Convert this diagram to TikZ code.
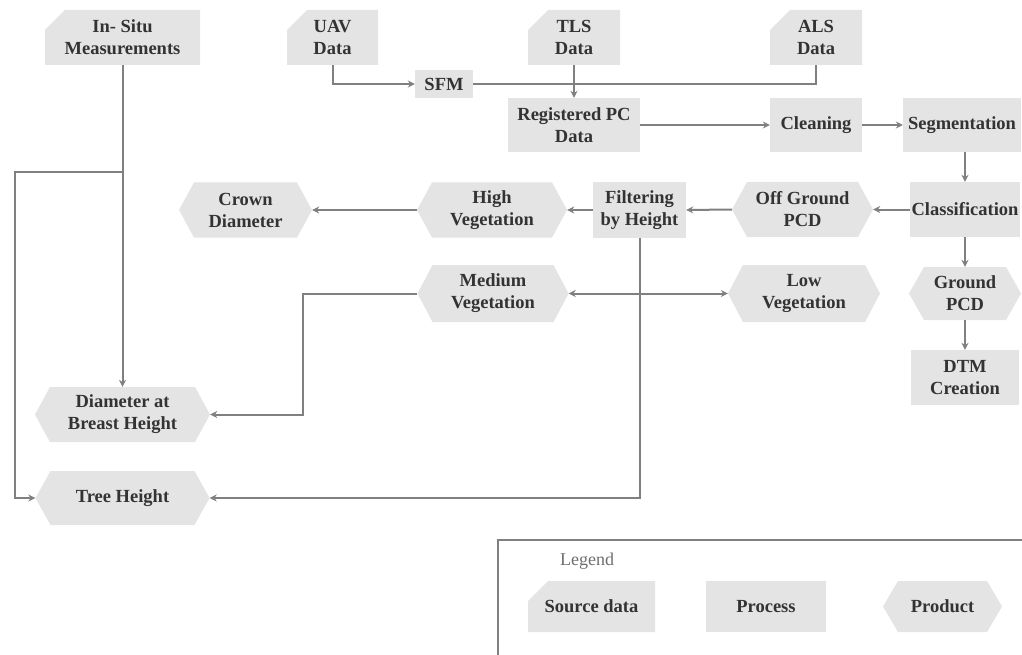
\documentclass[tikz,border=0pt]{standalone}
\usepackage{fontspec}
\setmainfont{Liberation Serif}
\usetikzlibrary{arrows.meta,calc}
\definecolor{boxfill}{HTML}{E4E4E4}
\definecolor{linec}{HTML}{808080}
\definecolor{txt}{HTML}{333333}
\definecolor{legtxt}{HTML}{6E6E6E}
\begin{document}
\begin{tikzpicture}[x=1pt,y=-1pt,
 base/.style={rectangle, inner sep=0pt, align=center, font=\fontsize{18.5}{22}\selectfont\bfseries, text=txt, minimum height=55pt},
 process/.style={base, fill=boxfill},
 source/.style={base, fill=white, path picture={\fill[boxfill] ([xshift=20pt]path picture bounding box.north west) -- (path picture bounding box.north east) -- (path picture bounding box.south east) -- (path picture bounding box.south west) -- ([yshift=-20pt]path picture bounding box.north west) -- cycle;}},
 product/.style={base, fill=white, path picture={\fill[boxfill] ([xshift=15pt]path picture bounding box.north west) -- ([xshift=-15pt]path picture bounding box.north east) -- (path picture bounding box.east) -- ([xshift=-15pt]path picture bounding box.south east) -- ([xshift=15pt]path picture bounding box.south west) -- (path picture bounding box.west) -- cycle;}},
 conn/.style={draw=linec, line width=2pt},
 arr/.style={conn, -{Stealth[length=7pt,width=7pt]}},
 arrb/.style={conn, {Stealth[length=7pt,width=7pt]}-{Stealth[length=7pt,width=7pt]}},
]
\useasboundingbox (0,0) rectangle (1022,655);

% source data
\node[source, minimum width=155pt] (insitu) at (122.5,37.5) {In- Situ\\Measurements};
\node[source, minimum width=91pt] (uav) at (332.5,37.5) {UAV\\Data};
\node[source, minimum width=92pt] (tls) at (574,37.5) {TLS\\Data};
\node[source, minimum width=92pt] (als) at (816,37.5) {ALS\\Data};

% processes
\node[process, minimum width=58pt, minimum height=28pt] (sfm) at (444,84) {SFM};
\node[process, minimum width=132pt, minimum height=54pt] (reg) at (574,125) {Registered PC\\Data};
\node[process, minimum width=92pt, minimum height=54pt] (clean) at (816,125) {Cleaning};
\node[process, minimum width=118pt, minimum height=54pt] (seg) at (962,125) {Segmentation};
\node[process, minimum width=110pt] (cls) at (965,209.5) {Classification};
\node[process, minimum width=93pt] (filt) at (639.5,210) {Filtering\\by Height};
\node[process, minimum width=108pt] (dtm) at (965,377.5) {DTM\\Creation};

% products
\node[product, minimum width=141pt] (off) at (802.5,209.5) {Off Ground\\PCD};
\node[product, minimum width=150pt] (high) at (492,210) {High\\Vegetation};
\node[product, minimum width=133pt] (crown) at (245.5,210) {Crown\\Diameter};
\node[product, minimum width=151pt, minimum height=57pt] (med) at (493,293.5) {Medium\\Vegetation};
\node[product, minimum width=152pt, minimum height=57pt] (low) at (804,293.5) {Low\\Vegetation};
\node[product, minimum width=112pt, minimum height=53pt] (ground) at (965,293.5) {Ground\\PCD};
\node[product, minimum width=175pt] (dbh) at (122.5,414.5) {Diameter at\\Breast Height};
\node[product, minimum width=174pt, minimum height=54pt] (tree) at (122.5,498) {Tree Height};

% connectors
\draw[arr] (uav.south) |- (sfm.west);
\draw[conn] (sfm.east) -| (als.south);
\draw[arr] (tls.south) -- (reg.north);
\draw[arr] (reg.east) -- (clean.west);
\draw[arr] (clean.east) -- (seg.west);
\draw[arr] (cls.north |- seg.south) -- (cls.north);
\draw[arr] (cls.west) -- (off.east);
\draw[arr] (off.west) -- (filt.east);
\draw[arr] (filt.west) -- (high.east);
\draw[arr] (high.west) -- (crown.east);
\draw[arr] (cls.south) -- (ground.north);
\draw[arr] (ground.south) -- (dtm.north);
\draw[arr] (filt.south) |- (tree.east);
\draw[arrb] (med.east) -- (low.west);
\coordinate (mk) at (303,293.5);
\draw[arr] (med.west) -- (mk) |- (dbh.east);
\draw[arr] (insitu.south) -- (dbh.north);
\coordinate (j) at (insitu.south |- 0,172);
\coordinate (lft) at (15,172);
\draw[arr] (j) -- (lft) |- (tree.west);

% legend
\draw[draw=linec, line width=1.5pt] (498,540) rectangle (1040,670);
\node[text=legtxt, font=\fontsize{18}{21}\selectfont, inner sep=0pt] (legend) at (587,561) {Legend};
\node[source, minimum width=127pt, minimum height=51pt] (lsrc) at (591.5,606.5) {Source data};
\node[process, minimum width=120pt, minimum height=51pt] (lproc) at (766,606.5) {Process};
\node[product, minimum width=119pt, minimum height=51pt] (lprod) at (942.5,606.5) {Product};
\end{tikzpicture}
\end{document}
